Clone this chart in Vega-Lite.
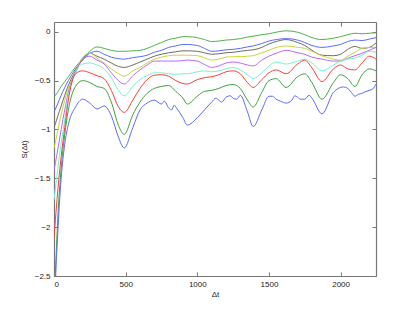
{
"$schema": "https://vega.github.io/schema/vega-lite/v6.json",
"width": 322, "height": 254,
"autosize": "none",
"padding": {"left": 54, "top": 22, "right": 39, "bottom": 36},
"background": "white",
"config": {"view": {"stroke": null}, "axis": {"labelFont": "Liberation Sans", "titleFont": "Liberation Sans", "labelFontSize": 8, "titleFontSize": 8, "titleFontWeight": "normal", "labelColor": "#222", "titleColor": "#222", "domainColor": "#777", "tickColor": "#777", "grid": false, "domainWidth": 1.2, "tickWidth": 1}},
"data": {"values": [
{"t":0,"g1":-0.67,"b2":-0.82,"k":-0.98,"y":-1.19,"m":-1.42,"c":-1.72,"r":-2.1,"g2":-2.75,"b1":-3.3},
{"t":10,"g1":-0.65,"b2":-0.79,"k":-0.94,"y":-1.13,"m":-1.34,"c":-1.6,"r":-1.92,"g2":-2.45,"b1":-2.6},
{"t":25,"g1":-0.62,"b2":-0.74,"k":-0.87,"y":-1.02,"m":-1.22,"c":-1.42,"r":-1.65,"g2":-1.95,"b1":-2.1},
{"t":50,"g1":-0.56,"b2":-0.65,"k":-0.76,"y":-0.85,"m":-1.0,"c":-1.14,"r":-1.28,"g2":-1.4,"b1":-1.5},
{"t":75,"g1":-0.51,"b2":-0.57,"k":-0.65,"y":-0.7,"m":-0.8,"c":-0.9,"r":-0.98,"g2":-1.05,"b1":-1.15},
{"t":100,"g1":-0.46,"b2":-0.5,"k":-0.55,"y":-0.58,"m":-0.62,"c":-0.66,"r":-0.7,"g2":-0.8,"b1":-0.95},
{"t":150,"g1":-0.36,"b2":-0.38,"k":-0.4,"y":-0.41,"m":-0.42,"c":-0.42,"r":-0.43,"g2":-0.56,"b1":-0.77},
{"t":200,"g1":-0.28,"b2":-0.29,"k":-0.28,"y":-0.26,"m":-0.28,"c":-0.33,"r":-0.4,"g2":-0.5,"b1":-0.69},
{"t":250,"g1":-0.2,"b2":-0.22,"k":-0.22,"y":-0.22,"m":-0.25,"c":-0.32,"r":-0.42,"g2":-0.52,"b1":-0.73},
{"t":300,"g1":-0.155,"b2":-0.2,"k":-0.25,"y":-0.27,"m":-0.29,"c":-0.34,"r":-0.45,"g2":-0.56,"b1":-0.79},
{"t":350,"g1":-0.17,"b2":-0.23,"k":-0.28,"y":-0.32,"m":-0.33,"c":-0.38,"r":-0.48,"g2":-0.58,"b1":-0.76},
{"t":400,"g1":-0.19,"b2":-0.26,"k":-0.32,"y":-0.38,"m":-0.42,"c":-0.47,"r":-0.6,"g2":-0.72,"b1":-0.86},
{"t":450,"g1":-0.2,"b2":-0.275,"k":-0.355,"y":-0.43,"m":-0.5,"c":-0.6,"r":-0.77,"g2":-0.96,"b1":-1.08},
{"t":490,"g1":-0.2,"b2":-0.28,"k":-0.365,"y":-0.455,"m":-0.535,"c":-0.655,"r":-0.825,"g2":-1.05,"b1":-1.19},
{"t":550,"g1":-0.195,"b2":-0.265,"k":-0.34,"y":-0.4,"m":-0.45,"c":-0.56,"r":-0.7,"g2":-0.85,"b1":-0.98},
{"t":600,"g1":-0.19,"b2":-0.255,"k":-0.31,"y":-0.365,"m":-0.39,"c":-0.49,"r":-0.58,"g2":-0.72,"b1":-0.8},
{"t":650,"g1":-0.17,"b2":-0.24,"k":-0.28,"y":-0.32,"m":-0.34,"c":-0.45,"r":-0.49,"g2":-0.63,"b1":-0.73},
{"t":700,"g1":-0.14,"b2":-0.21,"k":-0.25,"y":-0.28,"m":-0.3,"c":-0.42,"r":-0.445,"g2":-0.58,"b1":-0.7},
{"t":750,"g1":-0.11,"b2":-0.19,"k":-0.23,"y":-0.26,"m":-0.3,"c":-0.42,"r":-0.44,"g2":-0.56,"b1":-0.74},
{"t":770,"b1":-0.71},
{"t":800,"g1":-0.08,"b2":-0.16,"k":-0.215,"y":-0.245,"m":-0.3,"c":-0.43,"r":-0.455,"g2":-0.55,"b1":-0.78},
{"t":820,"b1":-0.8},
{"t":840,"b1":-0.75},
{"t":850,"g1":-0.065,"b2":-0.145,"k":-0.205,"y":-0.24,"m":-0.3,"c":-0.435,"r":-0.5,"g2":-0.61,"b1":-0.77},
{"t":900,"g1":-0.05,"b2":-0.13,"k":-0.195,"y":-0.24,"m":-0.295,"c":-0.43,"r":-0.53,"g2":-0.68,"b1":-0.88},
{"t":930,"g1":-0.05,"b2":-0.13,"k":-0.195,"y":-0.24,"m":-0.29,"c":-0.43,"r":-0.535,"g2":-0.74,"b1":-0.955},
{"t":1000,"g1":-0.06,"b2":-0.14,"k":-0.2,"y":-0.245,"m":-0.3,"c":-0.41,"r":-0.49,"g2":-0.66,"b1":-0.88},
{"t":1050,"g1":-0.08,"b2":-0.17,"k":-0.215,"y":-0.265,"m":-0.335,"c":-0.4,"r":-0.47,"g2":-0.61,"b1":-0.8},
{"t":1100,"g1":-0.1,"b2":-0.2,"k":-0.23,"y":-0.29,"m":-0.365,"c":-0.41,"r":-0.46,"g2":-0.6,"b1":-0.72},
{"t":1130,"b1":-0.68},
{"t":1150,"g1":-0.095,"b2":-0.195,"k":-0.225,"y":-0.28,"m":-0.35,"c":-0.4,"r":-0.44,"g2":-0.58,"b1":-0.7},
{"t":1170,"b1":-0.72},
{"t":1200,"g1":-0.085,"b2":-0.185,"k":-0.215,"y":-0.26,"m":-0.32,"c":-0.38,"r":-0.41,"g2":-0.55,"b1":-0.67},
{"t":1230,"b1":-0.655},
{"t":1250,"g1":-0.08,"b2":-0.18,"k":-0.21,"y":-0.255,"m":-0.31,"c":-0.365,"r":-0.4,"g2":-0.54,"b1":-0.68},
{"t":1275,"b1":-0.69},
{"t":1300,"g1":-0.07,"b2":-0.17,"k":-0.2,"y":-0.255,"m":-0.32,"c":-0.39,"r":-0.43,"g2":-0.58,"b1":-0.65},
{"t":1350,"g1":-0.055,"b2":-0.155,"k":-0.19,"y":-0.25,"m":-0.34,"c":-0.44,"r":-0.52,"g2":-0.7,"b1":-0.82},
{"t":1390,"g1":-0.045,"b2":-0.145,"k":-0.185,"y":-0.245,"m":-0.35,"c":-0.48,"r":-0.57,"g2":-0.77,"b1":-0.97},
{"t":1450,"g1":-0.03,"b2":-0.12,"k":-0.16,"y":-0.215,"m":-0.29,"c":-0.42,"r":-0.49,"g2":-0.62,"b1":-0.8},
{"t":1500,"g1":-0.02,"b2":-0.095,"k":-0.125,"y":-0.19,"m":-0.25,"c":-0.35,"r":-0.42,"g2":-0.5,"b1":-0.66},
{"t":1525,"b1":-0.66},
{"t":1550,"g1":-0.005,"b2":-0.08,"k":-0.1,"y":-0.16,"m":-0.22,"c":-0.31,"r":-0.39,"g2":-0.48,"b1":-0.69},
{"t":1580,"b1":-0.71},
{"t":1620,"g1":0.01,"b2":-0.07,"k":-0.08,"y":-0.145,"m":-0.19,"c":-0.33,"r":-0.43,"g2":-0.57,"b1":-0.73},
{"t":1660,"b1":-0.7},
{"t":1680,"b1":-0.655},
{"t":1700,"g1":-0.005,"b2":-0.085,"k":-0.11,"y":-0.16,"m":-0.215,"c":-0.3,"r":-0.33,"g2":-0.46,"b1":-0.67},
{"t":1720,"b1":-0.69},
{"t":1750,"g1":-0.03,"b2":-0.11,"k":-0.14,"y":-0.17,"m":-0.23,"c":-0.28,"r":-0.29,"g2":-0.43,"b1":-0.69},
{"t":1780,"b1":-0.65},
{"t":1800,"g1":-0.06,"b2":-0.14,"k":-0.19,"y":-0.2,"m":-0.26,"c":-0.32,"r":-0.37,"g2":-0.52,"b1":-0.68},
{"t":1870,"g1":-0.08,"b2":-0.16,"k":-0.24,"y":-0.245,"m":-0.28,"c":-0.4,"r":-0.51,"g2":-0.69,"b1":-0.84},
{"t":1950,"g1":-0.065,"b2":-0.145,"k":-0.245,"y":-0.28,"m":-0.3,"c":-0.34,"r":-0.38,"g2":-0.52,"b1":-0.62},
{"t":2000,"g1":-0.05,"b2":-0.13,"k":-0.23,"y":-0.29,"m":-0.3,"c":-0.3,"r":-0.34,"g2":-0.44,"b1":-0.57},
{"t":2020,"b1":-0.565},
{"t":2050,"g1":-0.03,"b2":-0.1,"k":-0.18,"y":-0.25,"m":-0.27,"c":-0.28,"r":-0.38,"g2":-0.48,"b1":-0.58},
{"t":2075,"b1":-0.62},
{"t":2100,"g1":-0.015,"b2":-0.085,"k":-0.15,"y":-0.21,"m":-0.245,"c":-0.27,"r":-0.39,"g2":-0.56,"b1":-0.66},
{"t":2125,"b1":-0.64},
{"t":2150,"g1":-0.02,"b2":-0.09,"k":-0.17,"y":-0.17,"m":-0.22,"c":-0.24,"r":-0.32,"g2":-0.44,"b1":-0.63},
{"t":2170,"b1":-0.615},
{"t":2200,"g1":-0.015,"b2":-0.075,"k":-0.16,"y":-0.16,"m":-0.19,"c":-0.2,"r":-0.25,"g2":-0.38,"b1":-0.6},
{"t":2225,"b1":-0.585},
{"t":2247,"g1":-0.01,"b2":-0.06,"k":-0.115,"y":-0.16,"m":-0.16,"c":-0.21,"r":-0.28,"g2":-0.4,"b1":-0.535}
]},
"transform": [
{"fold": ["g1","b2","k","y","m","c","r","g2","b1"], "as": ["series","v"]},
{"filter": "isValid(datum.v)"}
],
"layer": [
{"mark": {"type": "line", "opacity": 0},
 "encoding": {
  "x": {"field": "t", "type": "quantitative", "scale": {"domain": [0, 2247], "nice": false, "zero": false},
        "axis": {"orient": "top", "labels": false, "title": null, "values": [0,500,1000,1500,2000], "tickSize": -4}},
  "y": {"field": "v", "type": "quantitative", "scale": {"domain": [-2.5, 0.1], "nice": false, "zero": false},
        "axis": {"orient": "right", "labels": false, "title": null, "values": [-2.5,-2,-1.5,-1,-0.5,0], "tickSize": -4}},
  "detail": {"field": "series"}
 }},
{"mark": {"type": "line", "strokeWidth": 1, "interpolate": "monotone", "clip": true},
 "encoding": {
  "x": {"field": "t", "type": "quantitative", "scale": {"domain": [0, 2247], "nice": false, "zero": false},
        "axis": {"orient": "bottom", "title": "Δt", "format": "d", "values": [0,500,1000,1500,2000], "tickSize": -4, "labelPadding": 8, "titlePadding": 2}},
  "y": {"field": "v", "type": "quantitative", "scale": {"domain": [-2.5, 0.1], "nice": false, "zero": false},
        "axis": {"orient": "left", "title": "S(Δt)", "format": "~g", "values": [-2.5,-2,-1.5,-1,-0.5,0], "tickSize": -4, "labelPadding": 8, "titlePadding": 6}},
  "color": {"field": "series", "type": "nominal", "legend": null,
            "scale": {"domain": ["g1","b2","k","y","m","c","r","g2","b1"],
                      "range": ["#4db34d","#5b6bff","#6b6b6b","#c6d63c","#bb66ff","#6ff5cf","#ff3b3b","#3f9f3f","#5b6bff"]}}
 }}
],
"resolve": {"axis": {"x": "independent", "y": "independent"}}
}
